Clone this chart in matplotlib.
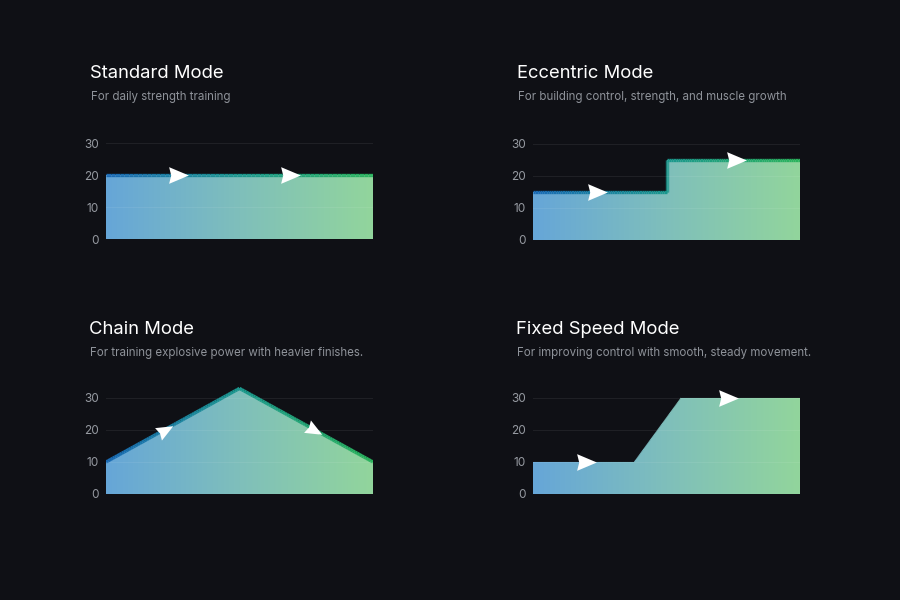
"""Four training-mode load profiles drawn as gradient area charts on a dark card."""

import numpy as np
import matplotlib

matplotlib.use("Agg")
import matplotlib.pyplot as plt
from matplotlib.collections import LineCollection
from matplotlib.colors import LinearSegmentedColormap
from matplotlib.path import Path

plt.rcParams["font.family"] = ["Inter", "DejaVu Sans"]

# ---- data -------------------------------------------------------------
titles = ["Standard Mode", "Eccentric Mode", "Chain Mode", "Fixed Speed Mode"]
subtitles = [
    "For daily strength training",
    "For building control, strength, and muscle growth",
    "For training explosive power with heavier finishes.",
    "For improving control with smooth, steady movement.",
]
standard_x = [0.0, 1.0]
standard_y = [20, 20]
eccentric_x = [0.0, 0.5, 0.5, 1.0]
eccentric_y = [15, 15, 25, 25]
chain_x = [0.0, 0.5, 1.0]
chain_y = [10, 33, 10]
fixed_x = [0.0, 0.38, 0.555, 1.0]
fixed_y = [10, 10, 30, 30]
arrow_x = [[0.27, 0.69], [0.24, 0.76], [0.22, 0.78], [0.20, 0.73]]
y_ticks = [0, 10, 20, 30]

series = [(standard_x, standard_y), (eccentric_x, eccentric_y),
          (chain_x, chain_y), (fixed_x, fixed_y)]
draw_edge = [True, True, True, False]

BG = "#0f1015"
fill_cmap = LinearSegmentedColormap.from_list("fill", ["#66a6d8", "#7fbfbb", "#92d59c"])
line_cmap = LinearSegmentedColormap.from_list("line", ["#1a6ab4", "#1b988d", "#2bb35c"])

fig = plt.figure(figsize=(9, 6), dpi=100, facecolor=BG)

# axes boxes in pixels: left, bottom (from top), width
boxes = [(106, 239), (533, 240), (106, 494), (533, 494)]
title_pos = [(90, 73), (517, 73), (89, 329), (516, 329)]
Y_TOP = 34.0
PX_PER_UNIT = 3.2


def arrow_marker(angle):
    verts = np.array([[1.0, 0.0], [-0.9, 0.8], [-0.7, 0.0], [-0.9, -0.8], [1.0, 0.0]])
    c, s = np.cos(angle), np.sin(angle)
    rot = verts @ np.array([[c, s], [-s, c]])
    codes = [Path.MOVETO, Path.LINETO, Path.LINETO, Path.LINETO, Path.CLOSEPOLY]
    return Path(rot, codes)


for i, ((xs, ys), (left_px, bottom_px)) in enumerate(zip(series, boxes)):
    h_px = Y_TOP * PX_PER_UNIT
    ax = fig.add_axes([left_px / 900, (600 - bottom_px) / 600, 267 / 900, h_px / 600])
    ax.set_facecolor(BG)
    ax.set_xlim(0, 1)
    ax.set_ylim(0, Y_TOP)
    for sp in ax.spines.values():
        sp.set_visible(False)
    ax.set_xticks([])
    ax.set_yticks(y_ticks)
    ax.tick_params(axis="y", length=0, pad=5, labelsize=8.5, labelcolor="#969aa1")
    for t in y_ticks[1:]:
        ax.axhline(t, color="white", alpha=0.07, lw=0.8, zorder=5)

    xs = np.asarray(xs, float)
    ys = np.asarray(ys, float)

    poly = ax.fill_between(xs, 0, ys, facecolor="none", edgecolor="none")
    grad = np.linspace(0, 1, 256).reshape(1, -1)
    im = ax.imshow(grad, extent=[0, 1, 0, Y_TOP], aspect="auto", cmap=fill_cmap,
                   origin="lower", zorder=2)
    im.set_clip_path(poly.get_paths()[0], transform=ax.transData)

    # gradient edge line
    fine_x = []
    fine_y = []
    for j in range(len(xs) - 1):
        n = 60
        fine_x.extend(np.linspace(xs[j], xs[j + 1], n))
        fine_y.extend(np.linspace(ys[j], ys[j + 1], n))
    fine_x = np.array(fine_x)
    fine_y = np.array(fine_y)
    pts = np.column_stack([fine_x, fine_y]).reshape(-1, 1, 2)
    segs = np.concatenate([pts[:-1], pts[1:]], axis=1)
    if draw_edge[i]:
        lc = LineCollection(segs, cmap=line_cmap, linewidths=2.4, capstyle="butt",
                            joinstyle="miter", zorder=4)
    else:
        lc = LineCollection(segs, cmap=fill_cmap, linewidths=0.8, zorder=4)
    lc.set_array(fine_x[:-1])
    lc.set_clim(0, 1)
    ax.add_collection(lc)

    # direction arrows
    for ax_x in arrow_x[i]:
        ay = np.interp(ax_x, xs, ys)
        p0 = ax.transData.transform((ax_x - 0.01, np.interp(ax_x - 0.01, xs, ys)))
        p1 = ax.transData.transform((ax_x + 0.01, np.interp(ax_x + 0.01, xs, ys)))
        ang = np.arctan2(p1[1] - p0[1], p1[0] - p0[0])
        ax.plot([ax_x], [ay], marker=arrow_marker(ang), markersize=15, color="white",
                markeredgewidth=0, zorder=6, linestyle="none")

    tx, ty = title_pos[i]
    fig.text(tx / 900, 1 - ty / 600, titles[i], color="white", fontsize=13.3,
             va="center", ha="left")
    fig.text((tx + 1) / 900, 1 - (ty + 24) / 600, subtitles[i], color="#8e9299",
             fontsize=8.3, va="center", ha="left")

fig.savefig("out.png", dpi=100, facecolor=BG)
